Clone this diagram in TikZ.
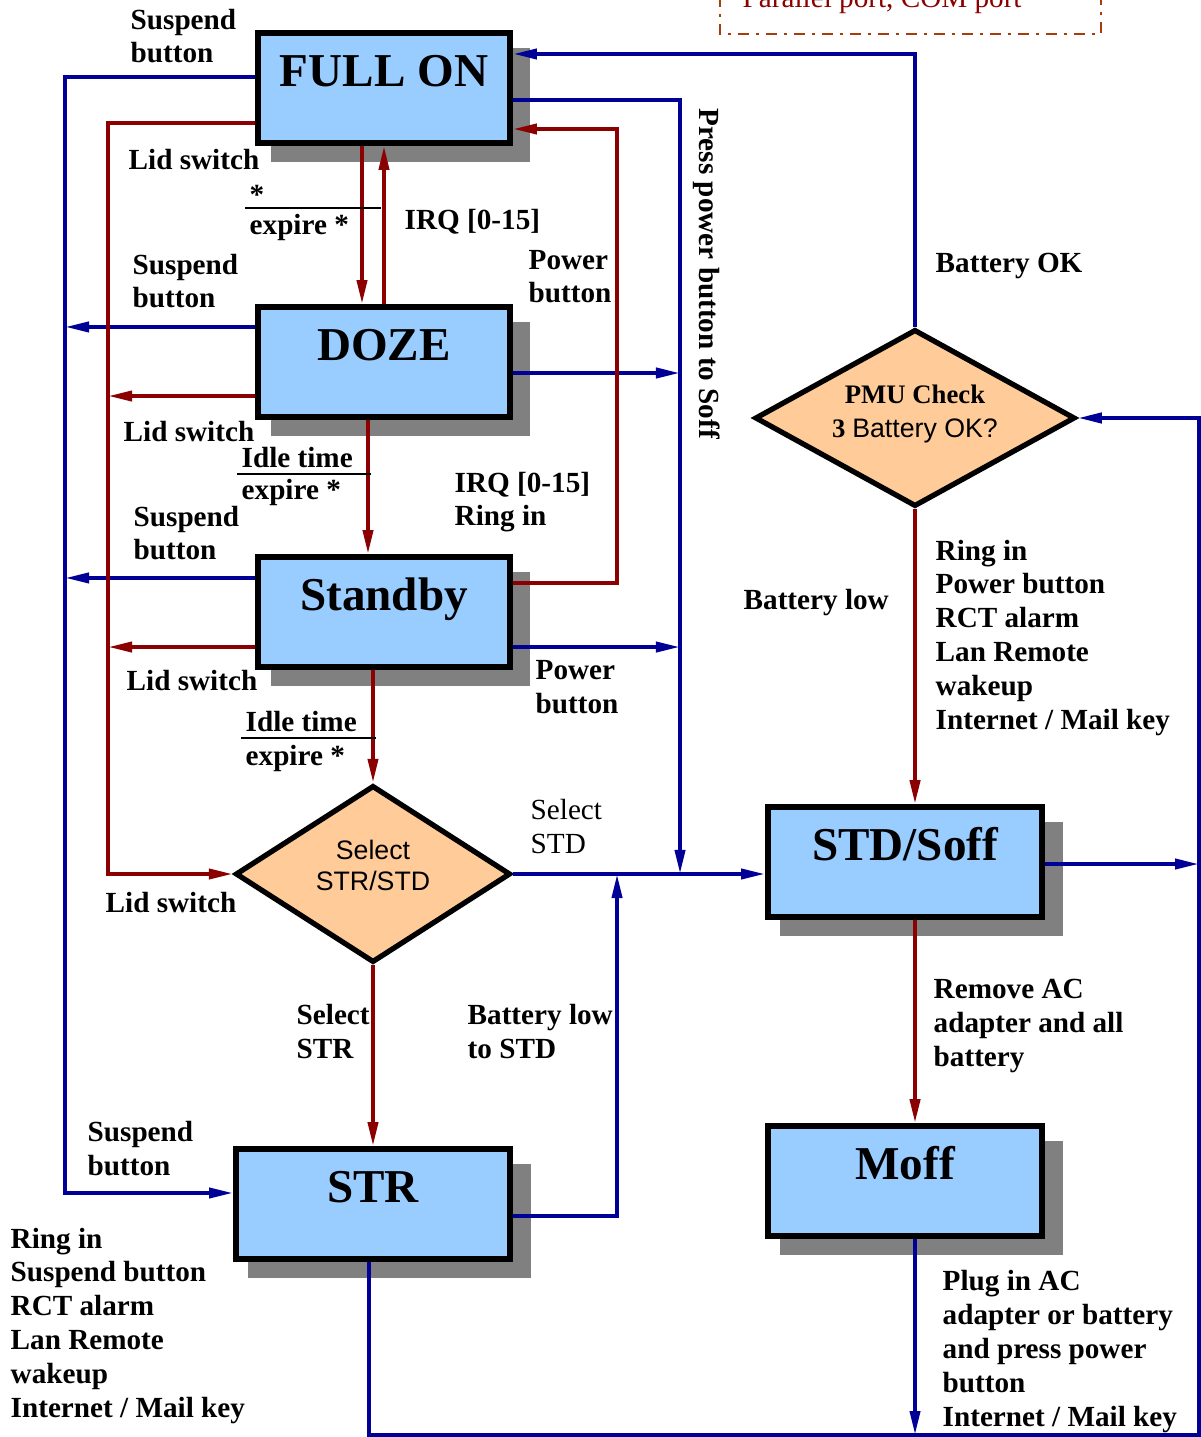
\documentclass[tikz,border=0pt]{standalone}
\usepackage{fontspec}
\setmainfont{Liberation Serif}
\newfontfamily\arialfont{Liberation Sans}
\usepackage{tikz}
\usetikzlibrary{arrows.meta,shapes.geometric,shadows}
\definecolor{boxblue}{HTML}{99CCFF}
\definecolor{peach}{HTML}{FFCC99}
\definecolor{shade}{HTML}{808080}
\definecolor{pmblue}{HTML}{000096}
\definecolor{pmred}{HTML}{8B0000}
\definecolor{rust}{HTML}{A83C0A}

\begin{document}
\begin{tikzpicture}[x=0.01cm,y=-0.01cm,
  arr/.style={-{Triangle[length=2.4mm,width=1mm]}},
  bl/.style={draw=pmblue,line width=1.1pt,arr},
  rd/.style={draw=pmred,line width=1.1pt,arr},
  pmstate/.style={draw,line width=1.6pt,fill=boxblue,minimum width=2.52cm,minimum height=1.1cm,
    general shadow={fill=shade,shadow scale=1.03,shadow xshift=1.6mm,shadow yshift=-1.65mm},
    font=\fontsize{13.4}{16}\selectfont\bfseries,text height=0.32cm,text depth=0.35cm},
  widestate/.style={minimum width=2.74cm},
  decision/.style={diamond,draw,line width=1.5pt,fill=peach,inner sep=0pt,align=center,
    text depth=0.05cm},
  lbl/.style={font=\fontsize{8.3}{9.6}\selectfont\bfseries,align=left,inner sep=0pt,anchor=base west},
]
\useasboundingbox (0,0) rectangle (1200,1437);

% ports box, cut at the top
\draw[rust,line width=0.8pt,dash pattern=on 0.11cm off 0.07cm on 0.03cm off 0.07cm] (720,-60) rectangle (1101,34);
\node[lbl,font=\fontsize{8.3}{9.6}\selectfont,text=pmred] (ports) at (742,8) {Parallel port, COM port};

% power states
\node[pmstate] (full) at (384,88) {FULL ON};
\node[pmstate] (doze) at (384,362) {DOZE};
\node[pmstate] (stby) at (384,612) {Standby};
\node[pmstate,widestate] (str) at (373,1204) {STR};
\node[pmstate,widestate] (std) at (905,862) {STD/Soff};
\node[pmstate,widestate] (moff) at (905,1181) {Moff};
\node[decision,aspect=1.54,minimum width=2.75cm,minimum height=1.77cm,text height=0.37cm,font=\arialfont\fontsize{7.6}{8.6}\selectfont] (sel) at (373,874) {Select\\STR/STD};
\node[decision,aspect=1.8,minimum width=3.2cm,minimum height=1.77cm,text height=0.43cm,font=\fontsize{7.6}{9.4}\selectfont] (pmu) at (915,418) {\textbf{PMU Check}\\\textbf{3} {\arialfont Battery OK?}};

% ports on the boxes
\coordinate (fullSus) at ([yshift=1.1mm]full.west);
\coordinate (fullLid) at ([yshift=-3.5mm]full.west);
\coordinate (fullPwr) at ([yshift=-1.2mm]full.east);
\coordinate (fullIrq) at ([yshift=-4.1mm]full.east);
\coordinate (fullOk) at ([yshift=3.4mm]full.east);
\coordinate (fullDn) at ([xshift=-2.2mm]full.south);
\coordinate (dozeSus) at ([yshift=3.5mm]doze.west);
\coordinate (dozeLid) at ([yshift=-3.4mm]doze.west);
\coordinate (dozePwr) at ([yshift=-1.1mm]doze.east);
\coordinate (dozeDn) at ([xshift=-1.6mm]doze.south);
\coordinate (stbySus) at ([yshift=3.4mm]stby.west);
\coordinate (stbyLid) at ([yshift=-3.5mm]stby.west);
\coordinate (stbyIrq) at ([yshift=2.9mm]stby.east);
\coordinate (stbyPwr) at ([yshift=-3.5mm]stby.east);
\coordinate (stbyDn) at ([xshift=-1.1mm]stby.south);
\coordinate (strIn) at ([yshift=1.1mm]str.west);
\coordinate (strOut) at ([yshift=-1.2mm]str.east);
\coordinate (strWake) at ([xshift=-0.4mm]str.south);
\coordinate (stdTop) at ([xshift=1mm]std.north);
\coordinate (stdOut) at ([yshift=-0.2mm]std.east);
\coordinate (stdDn) at ([xshift=1mm]std.south);
\coordinate (moffUp) at ([xshift=1mm]moff.north);
\coordinate (moffDn) at ([xshift=1mm]moff.south);

% lanes
\coordinate (laneB) at (65,0);
\coordinate (laneR) at (108,0);
\coordinate (laneM) at (617,0);
\coordinate (laneP) at (680,0);
\coordinate (laneE) at (1199,0);
\coordinate (bottom) at (0,1435);

% blue transitions
\draw[bl] (fullSus) -| (laneB |- strIn) -- (strIn);
\draw[bl] (dozeSus) -- (dozeSus -| laneB);
\draw[bl] (stbySus) -- (stbySus -| laneB);
\draw[bl] (fullPwr) -| (laneP |- sel.east);
\draw[bl] (dozePwr) -- (dozePwr -| laneP);
\draw[bl] (stbyPwr) -- (stbyPwr -| laneP);
\draw[bl] (sel.east) -- (sel.east -| std.west);
\draw[bl] (strOut) -| (laneM |- sel.east);
\draw[bl] (strWake) |- (laneE |- bottom) |- (pmu.east);
\draw[bl] (stdOut) -- (stdOut -| laneE);
\draw[bl] (pmu.north) |- (fullOk);
\draw[bl] (moffDn) -- (moffDn |- bottom);

% red transitions
\draw[rd] (fullLid) -| (laneR |- sel.west) -- (sel.west);
\draw[rd] (dozeLid) -- (dozeLid -| laneR);
\draw[rd] (stbyLid) -- (stbyLid -| laneR);
\draw[rd] (fullDn) -- (fullDn |- doze.north);
\draw[rd] (doze.north) -- (doze.north |- full.south);
\draw[rd] (dozeDn) -- (dozeDn |- stby.north);
\draw[rd] (stbyIrq) -| (laneM |- fullIrq) -- (fullIrq);
\draw[rd] (stbyDn) -- (sel.north);
\draw[rd] (sel.south) -- (sel.south |- str.north);
\draw[rd] (pmu.south) -- (stdTop);
\draw[rd] (stdDn) -- (moffUp);

% labels (placed at the baseline of the last line)
\node[lbl] (susp1) at (130,63) {Suspend\\button};
\node[lbl] (lid1) at (128,170) {Lid switch};
\node[lbl] (star1) at (249,205) {*};
\draw[line width=0.8pt] (245,208) -- (381,208);
\node[lbl] (exp1) at (249,235) {expire *};
\node[lbl] (irq1) at (404,230) {IRQ [0-15]};
\node[lbl] (susp2) at (132,308) {Suspend\\button};
\node[lbl] (pow1) at (528,303) {Power\\button};
\node[lbl] (lid2) at (123,442) {Lid switch};
\node[lbl] (idle1) at (241,468) {Idle time};
\draw[line width=0.8pt] (237,474) -- (371,474);
\node[lbl] (exp2) at (241,500) {expire *};
\node[lbl] (irq2) at (454,526) {IRQ [0-15]\\Ring in};
\node[lbl] (susp3) at (133,560) {Suspend\\button};
\node[lbl] (lid3) at (126,690) {Lid switch};
\node[lbl] (pow2) at (535,713) {Power\\button};
\node[lbl] (idle2) at (245,731) {Idle time};
\draw[line width=0.8pt] (241,738) -- (376,738);
\node[lbl] (exp3) at (245,765) {expire *};
\node[lbl,font=\fontsize{8.3}{9.6}\selectfont] (selstd) at (530,853) {Select\\STD};
\node[lbl] (lid4) at (105,912) {Lid switch};
\node[lbl] (selstr) at (296,1058) {Select\\STR};
\node[lbl] (lowstd) at (467,1058) {Battery low\\to STD};
\node[lbl] (susp4) at (87,1175) {Suspend\\button};
\node[lbl] (wake1) at (10,1417) {Ring in\\Suspend button\\RCT alarm\\Lan Remote\\wakeup\\Internet / Mail key};
\node[lbl,rotate=-90,anchor=west] (press) at (707,108) {Press power button to Soff};
\node[lbl] (batok) at (935,273) {Battery OK};
\node[lbl] (batlow) at (743,610) {Battery low};
\node[lbl] (wake2) at (935,729) {Ring in\\Power button\\RCT alarm\\Lan Remote\\wakeup\\Internet / Mail key};
\node[lbl] (remove) at (933,1066) {Remove AC\\adapter and all\\battery};
\node[lbl] (plug) at (942,1426) {Plug in AC\\adapter or battery\\and press power\\button\\Internet / Mail key};
\end{tikzpicture}
\end{document}
